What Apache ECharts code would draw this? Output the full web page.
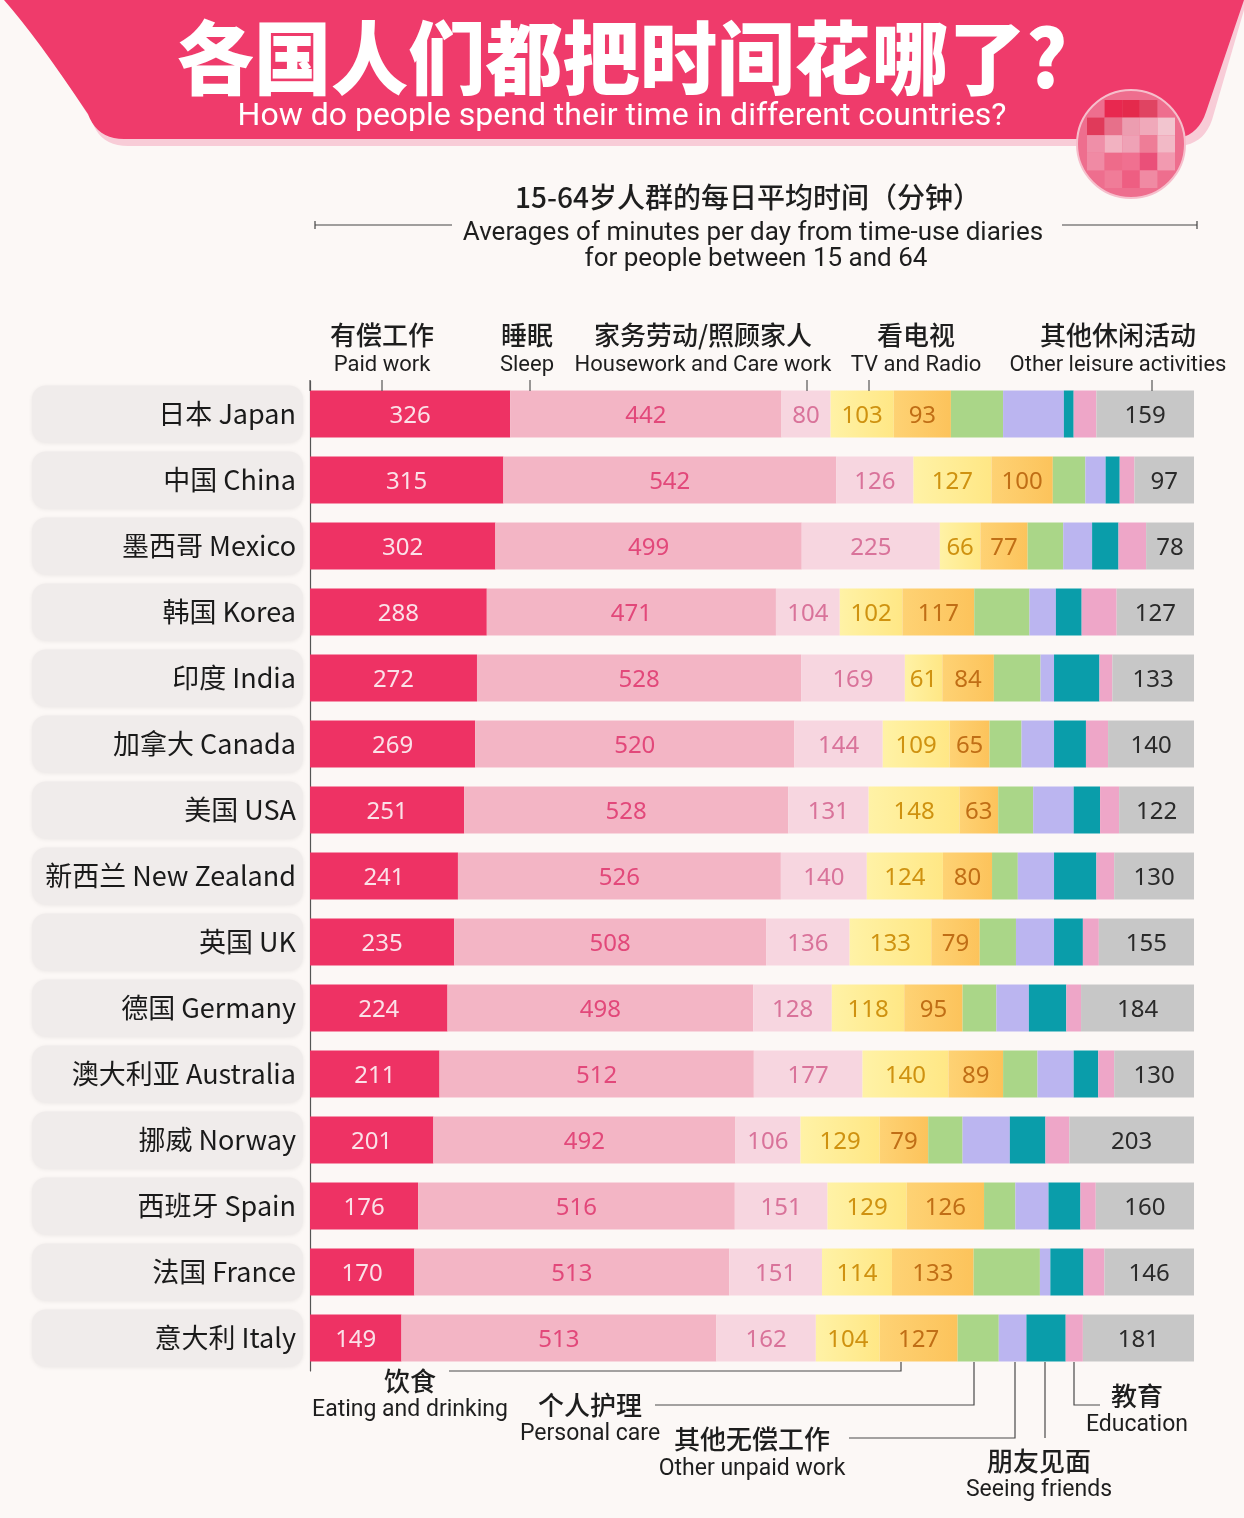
<!DOCTYPE html>
<html>
<head>
<meta charset="utf-8">
<script src="https://cdn.jsdelivr.net/npm/echarts@6/dist/echarts.min.js"></script>
<style>
html,body{margin:0;padding:0;background:#FCF8F6;}
#chart{width:1244px;height:1518px;}
</style>
</head>
<body>
<div id="chart"></div>
<script>
// ---- data (minutes per day) ----
const countries = ['日本 Japan','中国 China','墨西哥 Mexico','韩国 Korea','印度 India','加拿大 Canada','美国 USA','新西兰 New Zealand','英国 UK','德国 Germany','澳大利亚 Australia','挪威 Norway','西班牙 Spain','法国 France','意大利 Italy'];
const paidWork      = [326,315,302,288,272,269,251,241,235,224,211,201,176,170,149];
const sleep         = [442,542,499,471,528,520,528,526,508,498,512,492,516,513,513];
const houseworkCare = [80,126,225,104,169,144,131,140,136,128,177,106,151,151,162];
const tvRadio       = [103,127,66,102,61,109,148,124,133,118,140,129,129,114,104];
const eating        = [93,100,77,117,84,65,63,80,79,95,89,79,126,133,127];
const personalCare  = [85,53,58,90,76,52,57,42,59,55,56,56,51,108,67];
const otherUnpaid   = [99,33,47,43,22,53,66,59,62,53,59,77,54,17,45];
const seeingFriends = [16,23,43,42,74,52,43,69,47,61,40,58,52,54,64];
const education     = [37,24,45,57,21,36,31,29,26,24,26,39,25,34,28];
const otherLeisure  = [159,97,78,127,133,140,122,130,155,184,130,203,160,146,181];

const seriesNames = ['Paid work','Sleep','Housework and Care work','TV and Radio','Eating and drinking','Personal care','Other unpaid work','Seeing friends','Education','Other leisure activities'];
const seriesData = [paidWork,sleep,houseworkCare,tvRadio,eating,personalCare,otherUnpaid,seeingFriends,education,otherLeisure];

const grad = (a,b)=>({type:'linear',x:0,y:0,x2:1,y2:0,colorStops:[{offset:0,color:a},{offset:1,color:b}]});
const colors = ['#EE3264','#F3B5C5','#F7D6E0',grad('#FFF2A6','#FFE785'),grad('#FED274','#FCC35B'),'#AAD688','#BBB5F0','#0A9DAA','#EEA6C8','#C7C7C7'];
const labelColors = ['#FBE1E8','#E2487A','#D9739A','#CF9210','#C06E16',null,null,null,null,'#2A2A2A'];

const chart = echarts.init(document.getElementById('chart'), null, {renderer:'canvas'});

const CJK = '"Noto Sans CJK SC", "Noto Sans", sans-serif';
const LAT = 'Roboto, "Noto Sans", sans-serif';

function txt(x,y,text,size,opt){
  opt = opt||{};
  return {type:'text', x:x, y:y, z:100, scaleX: opt.scaleX||1, originX:0, originY:0,
    style:{text:text, fontSize:size, fontFamily: opt.family||CJK, fontWeight: opt.weight||'normal',
      fill: opt.color||'#1E1E1E', textAlign: opt.align||'center', textVerticalAlign:'middle'}};
}
function pline(points){
  return {type:'polyline', z:100, shape:{points:points}, style:{stroke:'#4A4A4A', lineWidth:1.2, fill:null}};
}
function seg(x1,y1,x2,y2,c,w){
  return {type:'line', z:100, shape:{x1:x1,y1:y1,x2:x2,y2:y2}, style:{stroke:c||'#4A4A4A', lineWidth:w||1.2}};
}
// quadratic curve sampler for decorative banner outline
function quad(p0,p1,p2,n){
  const out=[];
  for(let i=0;i<=n;i++){const t=i/n,u=1-t;
    out.push([u*u*p0[0]+2*u*t*p1[0]+t*t*p2[0], u*u*p0[1]+2*u*t*p1[1]+t*t*p2[1]]);}
  return out;
}

const graphic = [];
// banner shadow + banner
graphic.push({type:'polygon', z:1, shape:{points:[[10,0],[1244,0],[1244,10]].concat(quad([1212,120],[1203,146],[1176,146],10)).concat(quad([128,146],[100,146],[92,121],10)).concat(quad([92,121],[40,40],[10,0],8))}, style:{fill:'#F8CCD7'}});
graphic.push({type:'polygon', z:2, shape:{points:[[4,0],[1244,0]].concat(quad([1206,112],[1197,139],[1170,139],10)).concat(quad([124,139],[97,139],[88,114],10)).concat(quad([88,114],[36,36],[4,0],8))}, style:{fill:'#EF3B6B'}});
graphic.push(txt(622,58,'各国人们都把时间花哪了?',80,{color:'#FFFFFF',weight:900,scaleX:0.965}));
graphic.push(txt(622,117,'How do people spend their time in different countries?',32,{color:'#FFFFFF',family:LAT}));

// mosaic circle
graphic.push({type:'circle', z:5, shape:{cx:1131,cy:144,r:54}, style:{fill:'#EE6E8E', stroke:'#F6BFCC', lineWidth:2}});
const mos = [
  [null,'#E8284F','#E42A4C','#E04462',null],
  ['#E03A5A','#E7708A','#EC9DB0','#F0A9BA','#F2C5CF'],
  ['#EF8FA8','#F2B2C1','#EFA2B6','#EE7D97','#F2B9C6'],
  ['#F08AA4','#EE6B8A','#F07090','#EA5079','#F29AB0'],
  [null,'#F07C98','#EE5E82','#F08AA3',null]
];
for(let r=0;r<5;r++){for(let c=0;c<5;c++){ if(!mos[r][c]) continue;
  graphic.push({type:'rect', z:6, shape:{x:1087+c*17.6, y:100+r*17.6, width:17.6, height:17.6}, style:{fill:mos[r][c]}});
}}

// chart heading
graphic.push(txt(748,197,'15-64岁人群的每日平均时间（分钟）',28,{weight:500,color:'#1E1E1E'}));
graphic.push(txt(753,233,'Averages of minutes per day from time-use diaries',26,{family:LAT,color:'#1E1E1E'}));
graphic.push(txt(756,259,'for people between 15 and 64',26,{family:LAT,color:'#1E1E1E'}));
graphic.push(seg(315,225,452,225,'#444',1.2));
graphic.push(seg(315,221,315,229,'#444',1.2));
graphic.push(seg(1062,225,1197,225,'#444',1.2));
graphic.push(seg(1197,221,1197,229,'#444',1.2));

// column headers
const heads = [[382,'有偿工作','Paid work'],[527,'睡眠','Sleep'],[703,'家务劳动/照顾家人','Housework and Care work'],[916,'看电视','TV and Radio'],[1118,'其他休闲活动','Other leisure activities']];
heads.forEach(h=>{
  graphic.push(txt(h[0],335,h[1],26,{weight:500}));
  graphic.push(txt(h[0],365,h[2],22,{family:LAT,color:'#1E1E1E'}));
});
[310,382,530,807,869,1152].forEach(x=>graphic.push(seg(x,380,x,391,'#555',1.2)));

// bottom annotations
graphic.push(pline([[901,1362],[901,1371],[449,1371]]));
graphic.push(pline([[974,1362],[974,1405],[655,1405]]));
graphic.push(pline([[1015,1362],[1015,1438],[849,1438]]));
graphic.push(pline([[1045,1362],[1045,1438]]));
graphic.push(pline([[1074,1362],[1074,1405],[1100,1405]]));
const ann = [[410,1381,'饮食',1410,'Eating and drinking'],[590,1405,'个人护理',1434,'Personal care'],[752,1439,'其他无偿工作',1469,'Other unpaid work'],[1039,1461,'朋友见面',1490,'Seeing friends'],[1137,1396,'教育',1425,'Education']];
ann.forEach(a=>{
  graphic.push(txt(a[0],a[1],a[2],26,{weight:500}));
  graphic.push(txt(a[0],a[3],a[4],23,{family:LAT}));
});

const series = seriesNames.map((name,i)=>({
  name:name, type:'bar', stack:'total', barWidth:47,
  data: seriesData[i],
  itemStyle:{color:colors[i]},
  label:{show: labelColors[i]!==null, position:'inside', offset:[0,2], color:labelColors[i]||'#000', fontSize:24, fontFamily:'"Noto Sans", sans-serif'},
  emphasis:{disabled:true}
}));

chart.setOption({
  backgroundColor:'#FCF8F6',
  animation:false,
  grid:{left:310,right:50,top:381,bottom:147},
  xAxis:{type:'value',min:0,max:1440,show:false},
  yAxis:{type:'category',data:countries,inverse:true,
    axisLine:{show:true,lineStyle:{color:'#555',width:1.2}},
    axisTick:{show:false},
    axisLabel:{margin:7,width:257,align:'right',fontSize:27,lineHeight:29,color:'#1A1A1A',fontFamily:CJK,
      backgroundColor:'#F0ECEB',borderRadius:14,padding:[14,7,14,7],
      shadowColor:'rgba(0,0,0,0.07)',shadowBlur:4,shadowOffsetY:1}
  },
  series:series,
  graphic:graphic
});
</script>
</body>
</html>
